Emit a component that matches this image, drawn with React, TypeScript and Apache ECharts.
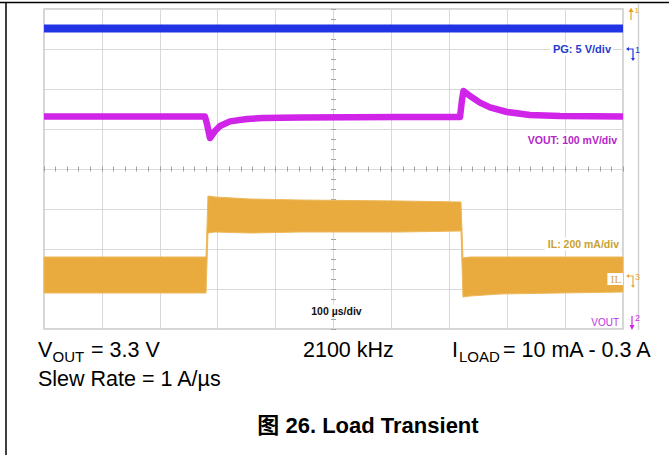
import React, { useEffect, useRef } from "react";
import * as echarts from "echarts";

// time in µs (100 µs/div, centre of screen = 0); level in divisions
const pgTime = [-500, -250, 0, 250, 500];
const pgLevel = [3.51, 3.51, 3.51, 3.51, 3.51];

const voutTime = [-500, -222, -218.5, -213.3, -204.7, -196, -178.8, -149.4, -121.8, -57.9, 114.8, 218.5, 221.9, 224.5, 235.8, 253, 270.3, 299.6, 339.4, 391.2, 500];
const voutLevel = [1.31, 1.31, 1.125, 0.775, 0.95, 1.075, 1.19, 1.25, 1.275, 1.29, 1.3, 1.3, 1.725, 1.95, 1.825, 1.66, 1.54, 1.425, 1.35, 1.325, 1.31];

const ilTime = [-500, -220.2, -216.8, -204.7, -144.2, -57.9, 114.8, 220.2, 223.6, 235.8, 287.6, 500];
const ilLower = [-3.1, -3.1, -1.6, -1.575, -1.6, -1.575, -1.575, -1.55, -3.2, -3.175, -3.125, -3.075];
const ilUpper = [-2.2, -2.2, -0.675, -0.7, -0.75, -0.775, -0.8, -0.825, -2.225, -2.2, -2.2, -2.2];

const xRange = [-500, 500];
const xInterval = 100;
const yRange = [-4, 4];
const yInterval = 1;

const FONT = '"Liberation Sans", Arial, sans-serif';

export default function App() {
  const ref = useRef<HTMLDivElement>(null);
  useEffect(() => {
    if (!ref.current) return;
    const chart = echarts.init(ref.current, undefined, { renderer: "svg" });
    const gridColor = "#D9D9D9";
    const tickColor = "#A0A0A0";
    const baseX = {
      type: "value",
      min: xRange[0],
      max: xRange[1],
      interval: xInterval,
      axisLabel: { show: false },
    };
    const baseY = {
      type: "value",
      min: yRange[0],
      max: yRange[1],
      interval: yInterval,
      axisLabel: { show: false },
    };
    const tickAxisX = (position: string) => ({
      ...baseX,
      position,
      axisLine: { show: false, onZero: true },
      axisTick: { show: true, inside: false, length: 2.5, lineStyle: { color: tickColor } },
      minorTick: { show: true, splitNumber: 5, length: 2.5, lineStyle: { color: tickColor } },
      splitLine: { show: false },
    });
    const tickAxisY = (position: string) => ({
      ...baseY,
      position,
      axisLine: { show: false, onZero: true },
      axisTick: { show: true, inside: false, length: 2.5, lineStyle: { color: tickColor } },
      minorTick: { show: true, splitNumber: 4, length: 2.5, lineStyle: { color: tickColor } },
      splitLine: { show: false },
    });
    const label = (text: string, x: number, y: number, fill: string, extra: any = {}) => ({
      type: "text",
      z: 100,
      style: {
        text,
        x,
        y,
        fill,
        fontFamily: FONT,
        fontSize: 10.5,
        fontWeight: "bold",
        align: "right",
        verticalAlign: "middle",
        backgroundColor: "#fff",
        padding: [1, 2, 1, 3],
        ...extra,
      },
    });
    const plain = (text: string, x: number, y: number, size: number, extra: any = {}) => ({
      type: "text",
      z: 100,
      style: {
        text,
        x,
        y,
        fill: "#000",
        fontFamily: FONT,
        fontSize: size,
        align: "left",
        verticalAlign: "middle",
        ...extra,
      },
    });
    const blue = "#2233E6";
    const magenta = "#D024E8";
    const orange = "#E9AA3E";
    const marker = (x: number, y: number, color: string, num: string) => [
      { type: "polyline", z: 100, shape: { points: [[x - 3, y - 4], [x + 2, y - 4], [x + 2, y + 6]] }, style: { stroke: color, lineWidth: 1.2, fill: "none" } },
      { type: "polygon", z: 100, shape: { points: [[x - 5, y - 4], [x - 2, y - 6], [x - 2, y - 2]] }, style: { fill: color } },
      { type: "polygon", z: 100, shape: { points: [[x, y + 5], [x + 4, y + 5], [x + 2, y + 8]] }, style: { fill: color } },
      { type: "text", z: 100, style: { text: num, x: x + 4, y: y - 3, fill: color, fontFamily: FONT, fontSize: 9, verticalAlign: "middle" } },
    ];

    chart.setOption({
      animation: false,
      backgroundColor: "#fff",
      grid: { left: 44, top: 9, width: 579, height: 320, show: true, borderColor: "#C6C6C6", borderWidth: 1.5, backgroundColor: "transparent" },
      xAxis: [
        {
          ...baseX,
          axisLine: { show: false },
          axisTick: { show: false },
          splitLine: { show: true, lineStyle: { color: gridColor, width: 1 } },
        },
        tickAxisX("bottom"),
        tickAxisX("top"),
      ],
      yAxis: [
        {
          ...baseY,
          axisLine: { show: false },
          axisTick: { show: false },
          splitLine: { show: true, lineStyle: { color: gridColor, width: 1 } },
        },
        tickAxisY("left"),
        tickAxisY("right"),
      ],
      series: [
        {
          name: "PG",
          type: "line",
          symbol: "none",
          data: pgTime.map((t, i) => [t, pgLevel[i]]),
          lineStyle: { color: blue, width: 8 },
          z: 3,
        },
        {
          name: "VOUT",
          type: "line",
          symbol: "none",
          data: voutTime.map((t, i) => [t, voutLevel[i]]),
          lineStyle: { color: magenta, width: 6.5, join: "round" },
          z: 3,
        },
        {
          name: "IL",
          type: "custom",
          data: ilTime.map((t, i) => [t, ilLower[i], ilUpper[i]]),
          encode: { x: 0, y: [1, 2] },
          z: 3,
          renderItem: (params: any, api: any) => {
            if (params.dataIndex !== 0) return null;
            const top = ilTime.map((t, i) => api.coord([t, ilUpper[i]]));
            const bottom = ilTime.map((t, i) => api.coord([t, ilLower[i]])).reverse();
            return {
              type: "polygon",
              shape: { points: top.concat(bottom) },
              style: { fill: orange, stroke: "#EDB85A", lineWidth: 1 },
            };
          },
        },
      ],
      graphic: [
        { type: "line", z: 100, shape: { x1: 0, y1: 2.5, x2: 669, y2: 2.5 }, style: { stroke: "#000", lineWidth: 1.5 } },
        { type: "line", z: 100, shape: { x1: 6, y1: 2, x2: 6, y2: 455 }, style: { stroke: "#000", lineWidth: 1.5 } },
        { type: "line", z: 100, shape: { x1: 638.5, y1: 4, x2: 638.5, y2: 330 }, style: { stroke: "#D2D2D2", lineWidth: 1.5 } },
        label("PG: 5 V/div", 613, 49, "#1E3BCF", { fontSize: 11 }),
        label("VOUT: 100 mV/div", 619, 140, "#B524C9"),
        label("IL: 200 mA/div", 621, 244, "#C9A22E"),
        label("100 µs/div", 336, 311, "#111", { align: "center" }),
        label("IL", 623, 279, "#D9A440", { fontWeight: "normal", fontSize: 10, fontFamily: '"DejaVu Serif", serif' }),
        label("VOUT", 621, 322, "#C030E0", { fontWeight: "normal", fontSize: 10, backgroundColor: "transparent" }),
        // top arrow (trigger level)
        { type: "line", z: 100, shape: { x1: 631, y1: 10, x2: 631, y2: 20 }, style: { stroke: "#E8A020", lineWidth: 1.2 } },
        { type: "polygon", z: 100, shape: { points: [[628.5, 12], [633.5, 12], [631, 7.5]] }, style: { fill: "#E8A020" } },
        { type: "text", z: 100, style: { text: "1", x: 634.5, y: 10, fill: "#E8A020", fontFamily: FONT, fontSize: 8, verticalAlign: "middle" } },
        ...marker(631, 53, blue, "1"),
        ...marker(631, 280, orange, "3"),
        // VOUT marker
        { type: "line", z: 100, shape: { x1: 632, y1: 316, x2: 632, y2: 327 }, style: { stroke: magenta, lineWidth: 1.2 } },
        { type: "polygon", z: 100, shape: { points: [[629.5, 325], [634.5, 325], [632, 330]] }, style: { fill: magenta } },
        { type: "text", z: 100, style: { text: "2", x: 635, y: 318, fill: magenta, fontFamily: FONT, fontSize: 9, verticalAlign: "middle" } },
        // lower text
        plain("V", 38, 350, 21.5),
        plain("OUT", 52.5, 356, 15),
        plain("= 3.3 V", 91, 350, 21.5),
        plain("2100 kHz", 303, 350, 21.5),
        plain("I", 452, 350, 21.5),
        plain("LOAD", 459, 356, 15),
        plain("= 10 mA - 0.3 A", 503, 350, 21.5),
        plain("Slew Rate = 1 A/µs", 38, 379, 21.5),
        plain("图 26. Load Transient", 368, 425, 22, { align: "center", fontWeight: "bold", fontFamily: '"Liberation Sans", Arial, "Noto Sans CJK SC", sans-serif' }),
      ],
    });
    return () => chart.dispose();
  }, []);
  return <div ref={ref} style={{ position: "absolute", left: 0, top: 0, width: 669, height: 455 }} />;
}
